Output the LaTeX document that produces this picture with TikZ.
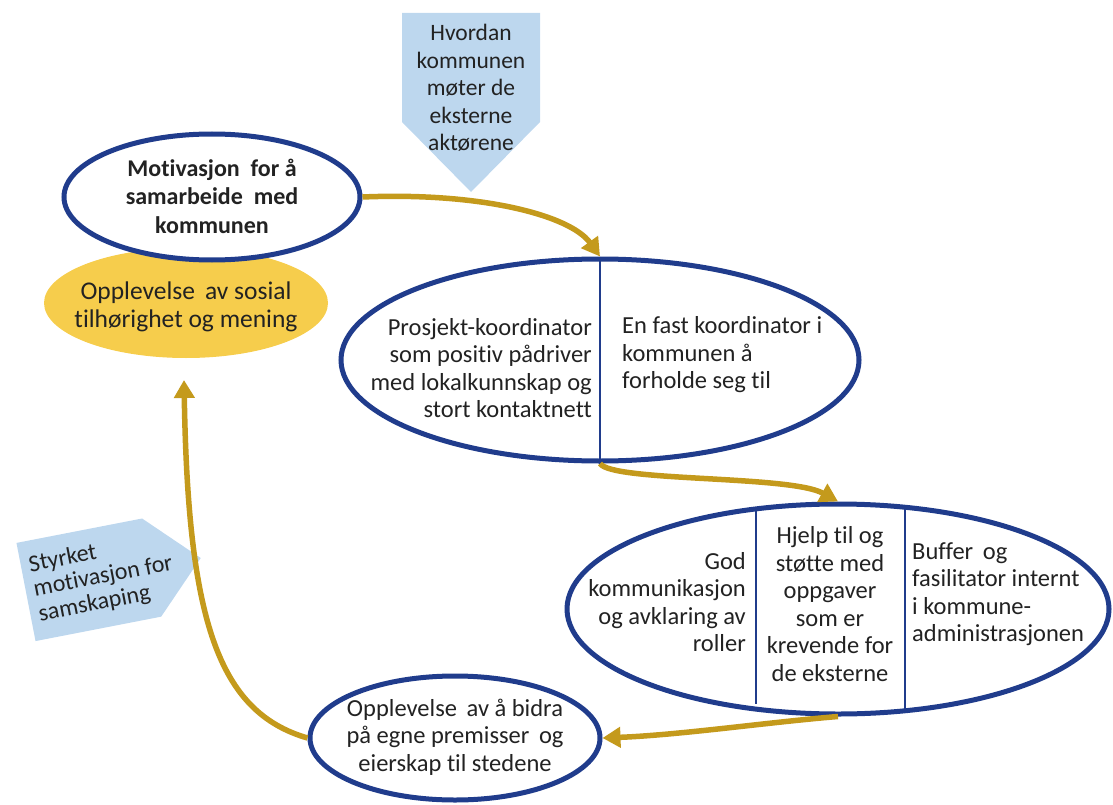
\documentclass[tikz,border=0pt]{standalone}
\usepackage{fontspec}
\setmainfont{Carlito}[Ligatures=NoCommon]
\usetikzlibrary{shapes.geometric,arrows.meta}
\definecolor{navy}{HTML}{203C8C}
\definecolor{gold}{HTML}{C49A1C}
\definecolor{yell}{HTML}{F6CD4C}
\definecolor{lblue}{HTML}{BDD7EE}
\definecolor{txt}{HTML}{222222}
\begin{document}
\begin{tikzpicture}[x=1pt,y=-1pt,
  oval/.style={ellipse, draw=navy, line width=5pt, fill=white, inner sep=0pt},
  lbl/.style={font=\fontsize{24.5}{27.5}\selectfont, text=txt, inner sep=0pt},
  flow/.style={draw=gold, line width=5.5pt, -{Triangle[length=18pt,width=20pt]}},
  divider/.style={draw=navy, line width=1.8pt},
  callout/.style={fill=lblue}]
\useasboundingbox (0,0) rectangle (1113,805);

% top callout
\fill[callout] (402,13) -- (540,13) -- (540,122) -- (471,192) -- (402,122) -- cycle;
\node[lbl, align=center, font=\fontsize{23.5}{27.5}\selectfont] (hv) at (471,88) {Hvordan\\kommunen\\møter de\\eksterne\\aktørene};

% left callout
\begin{scope}[shift={(26,592)}, rotate=11]
  \fill[callout] (0,-50) -- (128,-50) -- (178,0) -- (128,50) -- (0,50) -- cycle;
  \node[lbl, align=left, anchor=west, transform shape, font=\fontsize{24}{25}\selectfont] (st) at (8,0) {Styrket\\motivasjon for\\samskaping};
\end{scope}

% yellow
\node[ellipse, fill=yell, inner sep=0pt, minimum width=284pt, minimum height=110pt] (yel) at (186,303) {};
\node[lbl, align=center, font=\fontsize{25.5}{28.5}\selectfont] (yelt) at (186,307) {Opplevelse \,av sosial\\tilhørighet og mening};

% motivation
\node[oval, minimum width=296pt, minimum height=126pt] (motiv) at (212,197) {};
\node[lbl, align=center, font=\fontsize{24}{28.5}\selectfont\bfseries] (motivt) at (212,196) {Motivasjon \ for å\\samarbeide \ med\\kommunen};

% prosjekt
\node[oval, minimum width=518pt, minimum height=202pt] (pros) at (600,360) {};
\draw[divider] (pros.north) -- (pros.south);
\node[lbl, align=right, anchor=east] (p1) at (592,368) {Prosjekt-koordinator\\som positiv pådriver\\med lokalkunnskap og\\stort kontaktnett};
\node[lbl, align=left, anchor=west] (p2) at (622,355) {En fast koordinator i\\kommunen å\\forholde seg til};

% third
\node[oval, minimum width=542pt, minimum height=210pt] (thr) at (838,609) {};
\draw[divider] (756,508) -- (756,704);
\draw[divider] (905,507) -- (905,711);
\node[lbl, align=right, anchor=east] (t1) at (746,602) {God\\kommunikasjon\\og avklaring av\\roller};
\node[lbl, align=center] (t2) at (830,604) {Hjelp til og\\støtte med\\oppgaver\\som er\\krevende for\\de eksterne};
\node[lbl, align=left, anchor=west] (t3) at (912,594) {Buffer \,og\\fasilitator internt\\i kommune-\\administrasjonen};

% bottom
\node[oval, minimum width=290pt, minimum height=124pt] (bot) at (455,738) {};
\node[lbl, align=center] (bott) at (455,737) {Opplevelse \,av å bidra\\på egne premisser \,og\\eierskap til stedene};

% arrows
\coordinate (up) at (184,380);
\draw[flow] (motiv.east) .. controls (480,192) and (570,215) .. (pros.north);
\draw[flow] (pros.south) .. controls (612,482) and (790,475) .. (thr.north);
\draw[flow] (thr.south) .. controls (770,722) and (680,735) .. (bot.east);
\draw[flow] (bot.west) .. controls (218,712) and (188,620) .. (up);
\end{tikzpicture}
\end{document}
